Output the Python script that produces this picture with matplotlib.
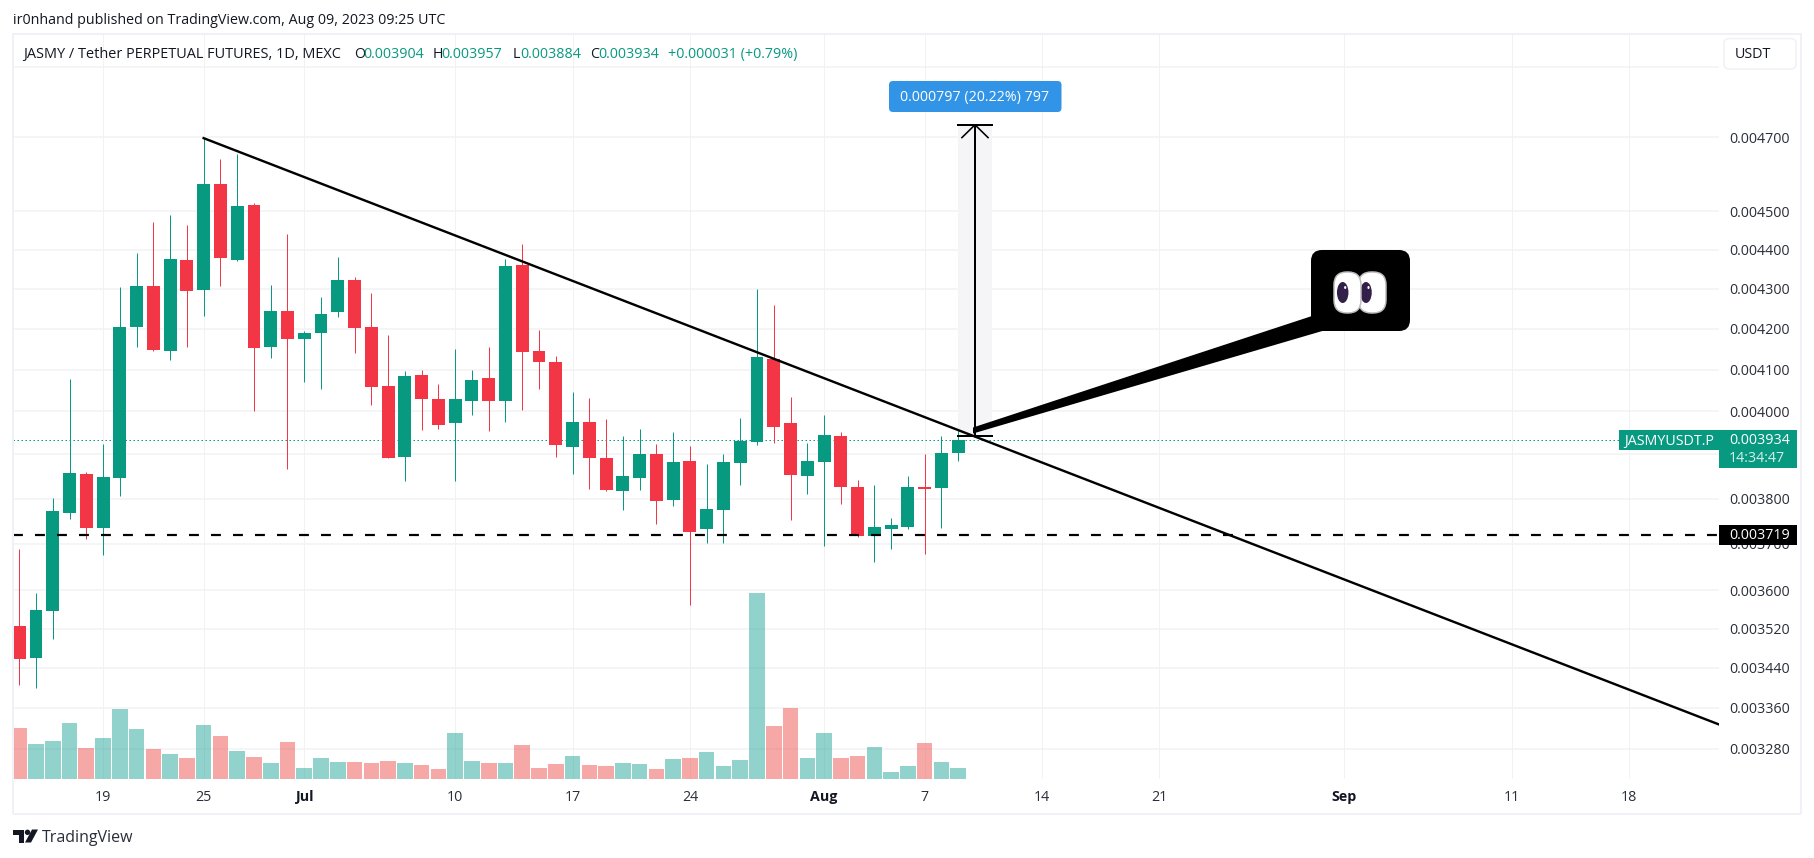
import matplotlib
matplotlib.use("Agg")
import matplotlib.pyplot as plt
from matplotlib.patches import FancyBboxPatch, Polygon, Rectangle, Circle, Ellipse
from matplotlib.ticker import NullLocator
import numpy as np
import pandas as pd

# daily candles, 14 Jun - 9 Aug 2023 (prices x 1e-6)
dates = pd.date_range("2023-06-14", "2023-08-09", freq="D")
opens = [3525, 3459, 3557, 3767, 3855, 3734, 3846, 4203, 4306, 4145, 4373, 4296, 4574, 4373, 4517,
         4154, 4243, 4174, 4189, 4241, 4321, 4203, 4060, 3894, 4086, 4029, 3973, 4024, 4079, 4024,
         4360, 4145, 4118, 3917, 3975, 3892, 3817, 3846, 3901, 3796, 3885, 3732, 3774, 3880, 3929,
         4125, 3973, 3851, 3883, 3942, 3826, 3718, 3732, 3738, 3826, 3823, 3904]
highs = [3690, 3594, 3801, 4077, 3860, 3924, 4303, 4391, 4472, 4490, 4464, 4698, 4641, 4655, 4523,
         4308, 4440, 4193, 4278, 4380, 4329, 4288, 4184, 4096, 4098, 4065, 4150, 4098, 4154, 4375,
         4414, 4196, 4132, 4046, 4032, 3982, 3942, 3959, 3924, 3952, 3919, 3878, 3901, 3984, 4298,
         4258, 4034, 3926, 3991, 3952, 3842, 3830, 3758, 3851, 3901, 3942, 3957]
lows = [3405, 3399, 3498, 3754, 3710, 3675, 3805, 4154, 4145, 4123, 4154, 4231, 4306, 4370, 4001,
        4128, 3867, 4070, 4053, 4228, 4140, 4015, 3891, 3839, 3956, 3959, 3839, 3991, 3954, 3975,
        4003, 4053, 3894, 3855, 3821, 3818, 3774, 3819, 3743, 3783, 3569, 3703, 3703, 3830, 3922,
        3926, 3752, 3810, 3696, 3787, 3716, 3660, 3688, 3732, 3679, 3734, 3884]
closes = [3458, 3558, 3772, 3858, 3734, 3848, 4203, 4306, 4147, 4375, 4293, 4574, 4378, 4515, 4152,
          4243, 4174, 4189, 4236, 4321, 4201, 4058, 3892, 4084, 4029, 3968, 4029, 4075, 4024, 4357,
          4142, 4118, 3922, 3975, 3892, 3819, 3851, 3901, 3794, 3883, 3727, 3776, 3883, 3931, 4130,
          3963, 3853, 3885, 3945, 3826, 3718, 3736, 3741, 3826, 3821, 3904, 3934]
# volume has no scale on the chart, relative units
volumes = [153, 105, 114, 168, 93, 123, 210, 150, 90, 75, 63, 162, 129, 84, 66, 48, 111, 33, 63, 51,
           51, 48, 54, 48, 42, 30, 138, 54, 48, 48, 102, 33, 45, 69, 42, 39, 48, 45, 30, 60, 63, 81,
           39, 57, 558, 159, 213, 63, 138, 63, 69, 96, 21, 39, 108, 51, 33]

price_ticks = [0.0047, 0.0045, 0.0044, 0.0043, 0.0042, 0.0041, 0.0040, 0.0039, 0.0038, 0.0037,
               0.0036, 0.00352, 0.00344, 0.00336, 0.00328]
hidden_prices = [0.0039]  # sits behind the last price badge
date_ticks = ["2023-06-19", "2023-06-25", "2023-07-01", "2023-07-10", "2023-07-17", "2023-07-24",
              "2023-08-01", "2023-08-07", "2023-08-14", "2023-08-21", "2023-09-01", "2023-09-11",
              "2023-09-18"]
date_labels = ["19", "25", "Jul", "10", "17", "24", "Aug", "7", "14", "21", "Sep", "11", "18"]

support = 0.003719
last_close = 0.003934
trend_dates = ["2023-06-25", "2023-09-23 09:00"]
trend_prices = [0.004698, 0.003327]
range_date = "2023-08-10"
range_low, range_high = 0.003942, 0.004735

W, H = 1814, 858
GREEN = "#089981"
RED = "#F23645"
GRID = "#f2f2f5"
FRAME = "#f0f1f6"
TEXT = "#131722"
FONT = "Open Sans"
FS = 14.3
plt.rcParams["font.family"] = FONT


def px(n):
    # pixels to points at dpi=100
    return n * 0.72


fig = plt.figure(figsize=(W / 100, H / 100), dpi=100, facecolor="white")

# main pane, pixel box 13..1719 x 35..779
ax = fig.add_axes([13 / W, 1 - 779 / H, (1719 - 13) / W, (779 - 35) / H])
ax.set_yscale("log")
ax.set_ylim(0.003222, 0.004992)
x0 = pd.Timestamp("2023-06-19")
day_nums = (dates - x0).days.to_numpy()
ax.set_xlim(-5.37, 96.37)


def to_day(d):
    return (pd.Timestamp(d) - x0) / pd.Timedelta(days=1)


# grid
for d in date_ticks:
    ax.axvline(to_day(d), color=GRID, lw=px(1), zorder=0)
for p in price_ticks + [0.0049]:
    ax.axhline(p, color=GRID, lw=px(1.5), zorder=0)

# candles
ups = np.array(closes) >= np.array(opens)
for d, o, h, l, c, up in zip(day_nums, opens, highs, lows, closes, ups):
    col = GREEN if up else RED
    ax.plot([d, d], [l * 1e-6, h * 1e-6], color=col, lw=px(1), solid_capstyle="butt", zorder=3)
    ax.bar(d, abs(c - o) * 1e-6, bottom=min(o, c) * 1e-6, width=0.77, color=col, zorder=4)

ax.axhline(last_close, color=GREEN, lw=px(1), ls=(0, (1.5, 2.5)), zorder=2)
ax.axhline(support, color="black", lw=px(2.2), ls=(0, (4.5, 5.5)), dash_capstyle="butt", zorder=6)
ax.plot([to_day(d) for d in trend_dates], trend_prices, color="black", lw=px(2.4), zorder=6)

# measure tool
rd = to_day(range_date)
ax.fill_between([rd - 1, rd + 1], range_low, range_high, color="#f5f5f8", lw=0, zorder=1)
ax.plot([rd, rd], [range_low, range_high], color="black", lw=px(2), zorder=7)
for p in (range_low, range_high):
    ax.plot([rd - 1.07, rd + 1.07], [p, p], color="black", lw=px(2), zorder=7, solid_capstyle="butt")
ax.plot([rd - 0.78, rd, rd + 0.78], [range_high * 0.9925, range_high, range_high * 0.9925],
        color="black", lw=px(1.6), zorder=7)

# volume on a hidden twin axis, translucent over the grid
vol = ax.twinx()
vol.set_ylim(0, 744 * 3)
vol.axis("off")
vol.bar(day_nums, volumes, width=0.93, color=["#26a69a" if u else "#ef5350" for u in ups], alpha=0.5)

# axes (twinx moves the ticks to the left, so this comes after it)
for s in ax.spines.values():
    s.set_visible(False)
ax.yaxis.tick_right()
ax.set_yticks(price_ticks)
ax.set_yticklabels(["" if p in hidden_prices else f"{p:.6f}" for p in price_ticks],
                   fontsize=px(FS), color="#2a2e39")
ax.yaxis.set_minor_locator(NullLocator())
ax.tick_params(axis="y", length=0, pad=px(10))
ax.set_xticks([to_day(d) for d in date_ticks])
ax.set_xticklabels(date_labels, fontsize=px(FS), color="#2a2e39")
for lab in ax.get_xticklabels():
    if lab.get_text() in ("Jul", "Aug", "Sep"):
        lab.set_fontweight("bold")
        lab.set_color(TEXT)
ax.tick_params(axis="x", length=0, pad=px(11))

# overlay in pixel coordinates for the page furniture
ov = fig.add_axes([0, 0, 1, 1], zorder=10)
ov.set_xlim(0, W)
ov.set_ylim(H, 0)
ov.axis("off")
ov.patch.set_visible(False)

for xs, ys in [((13, 1801), (33.5, 33.5)), ((13, 1801), (813.5, 813.5)), ((12.5, 12.5), (33, 814)),
               ((1801, 1801), (33, 814))]:
    ov.plot(xs, ys, color=FRAME, lw=px(2), solid_capstyle="butt")

ov.text(13, 21, "ir0nhand published on TradingView.com, Aug 09, 2023 09:25 UTC", fontsize=px(FS),
        color=TEXT, va="center")
ov.text(23, 54.5, "JASMY / Tether PERPETUAL FUTURES, 1D, MEXC", fontsize=px(FS * 1.015), color=TEXT, va="center")
for xl, l, xv, v in [(354, "O", 363, "0.003904"), (433, "H", 441, "0.003957"),
                     (513, "L", 520.5, "0.003884"), (590, "C", 598.5, "0.003934")]:
    ov.text(xl, 54.5, l, fontsize=px(FS), color=TEXT, va="center")
    ov.text(xv, 54.5, v, fontsize=px(FS), color=GREEN, va="center")
ov.text(668, 54.5, "+0.000031 (+0.79%)", fontsize=px(FS), color=GREEN, va="center")


def box(x1, y1, x2, y2, r, **kw):
    ov.add_patch(FancyBboxPatch((x1 + r, y1 + r), x2 - x1 - 2 * r, y2 - y1 - 2 * r,
                                boxstyle=f"round,pad={r},rounding_size={r}", lw=kw.pop("lw", 0), **kw))


# USDT button
box(1724, 38.5, 1796, 69, 5, fc="white", ec=FRAME, lw=px(1.5))
ov.text(1735, 55, "USDT", fontsize=px(FS), color=TEXT, va="center")

# measure label
box(889, 81, 1061.5, 112, 4, fc="#3294e6")
ov.text(975, 97.5, "0.000797 (20.22%) 797", fontsize=px(FS), color="white", ha="center", va="center")

# callout with eyes
ov.add_patch(Polygon([(973, 427.5), (1312, 316), (1324, 330.5), (973, 433.5)], fc="black", lw=0))
box(1311, 250, 1410, 331, 11, fc="black")
for x1, x2, pc in [(1358.5, 1386, 1366), (1334, 1361, 1342.7)]:
    box(x1, 272, x2, 313, 13, fc="white", ec="#bdbdbd", lw=px(1.5))
    ov.add_patch(Ellipse((pc, 292.5), 11.5, 21, fc="#33204a", lw=0))
    ov.add_patch(Ellipse((pc + 2.5, 287.5), 2.2, 3, fc="white", lw=0))

# price badges
ov.add_patch(Rectangle((1619, 429.5), 100, 20.5, fc=GREEN, lw=0))
ov.add_patch(Rectangle((1719, 429.5), 78, 38, fc=GREEN, lw=0))
ov.text(1669, 441, "JASMYUSDT.P", fontsize=px(FS), color="white", ha="center", va="center")
ov.text(1729, 441, "0.003934", fontsize=px(FS), color="white", va="center")
ov.text(1729, 458.5, "14:34:47", fontsize=px(FS), color="#d5efe9", va="center")
ov.add_patch(Rectangle((1719, 524.5), 78, 20, fc="black", lw=0))
ov.text(1729, 535.5, "0.003719", fontsize=px(FS), color="white", va="center")

# TradingView logo
ov.add_patch(Polygon([(13, 829.5), (24, 829.5), (24, 842.5), (19, 842.5), (19, 835), (13, 835)], fc=TEXT, lw=0))
ov.add_patch(Circle((27.5, 832.3), 2.7, fc=TEXT, lw=0))
ov.add_patch(Polygon([(32, 829.5), (38, 829.5), (31, 842.5), (25, 842.5)], fc=TEXT, lw=0))
ov.text(42, 838, "TradingView", fontsize=px(16), color="#2a2e39", va="center")

fig.savefig("out.png", dpi=100)
